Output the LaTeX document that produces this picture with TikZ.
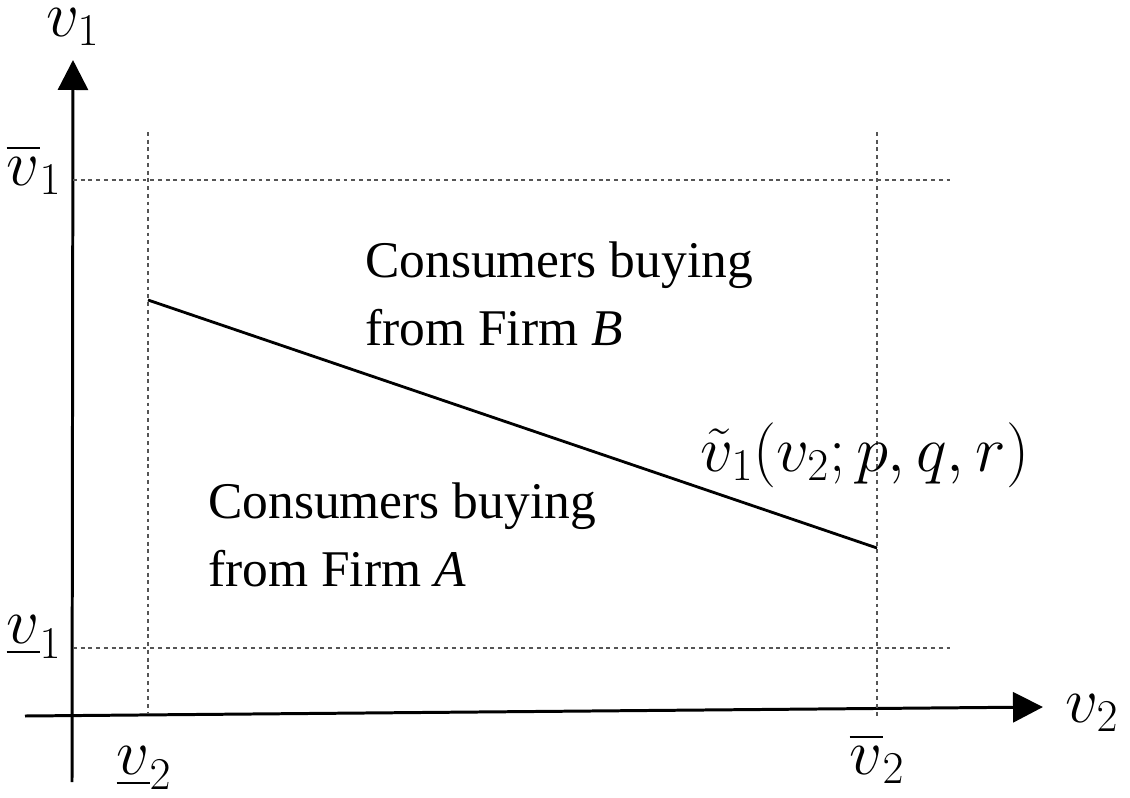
\RequirePackage{fix-cm}
\documentclass[tikz,border=0pt]{standalone}
\usepackage{amsmath,amssymb}
\usepackage{fontspec}
\setmainfont{Liberation Serif}
\usetikzlibrary{arrows.meta, positioning, calc}
\definecolor{inkblack}{HTML}{000000}
\definecolor{guidegray}{HTML}{555555}

\begin{document}
\begin{tikzpicture}[x=0.02cm, y=-0.02cm,
  >={Triangle[length=6mm, width=6mm]},
  axis/.style={inkblack, line width=1.7pt},
  guide/.style={guidegray, line width=0.6pt, dash pattern=on 2.2pt off 2.2pt},
  boundary/.style={inkblack, line width=1.6pt},
  mlabel/.style={inner sep=0pt, anchor=base, font=\fontsize{37}{42}\selectfont},
  region/.style={inner sep=0pt, align=left, anchor=west, font=\fontsize{29.3}{39}\selectfont}]

% Canvas
\useasboundingbox (0,0) rectangle (1130,798);

% Axes
\coordinate (xstart) at (25,716);
\coordinate (xend) at (1043,707);
\coordinate (ystart) at (72,782);
\coordinate (yend) at (73,60);
\draw[axis, ->] (xstart) -- (xend);
\draw[axis, ->] (ystart) -- (yend);

% Bounds on the valuations
\coordinate (lotop) at (148,132);
\coordinate (lobot) at (148,714);
\coordinate (hitop) at (877,132);
\coordinate (hibot) at (877,718);
\coordinate (ubleft) at (73,180);
\coordinate (ubright) at (950,180);
\coordinate (lbleft) at (73,648);
\coordinate (lbright) at (950,648);
\draw[guide] (lotop) -- (lobot);
\draw[guide] (hitop) -- (hibot);
\draw[guide] (ubleft) -- (ubright);
\draw[guide] (lbleft) -- (lbright);

% Indifference line
\coordinate (cutleft) at (148,300);
\coordinate (cutright) at (877,548);
\draw[boundary] (cutleft) -- (cutright);

% Axis labels (placed by baseline)
\node[mlabel] (vone) at (73,36) {$v_1$};
\node[mlabel] (vtwo) at (1092,722) {$v_2$};
\node[mlabel] (vonehi) at (34,185) {$\overline{v}_1$};
\node[mlabel] (vonelo) at (34,643) {$\underline{v}_1$};
\node[mlabel] (vtwolo) at (144,774) {$\underline{v}_2$};
\node[mlabel] (vtwohi) at (877,774) {$\overline{v}_2$};

% Regions
\node[region] (firmb) at (365,294) {Consumers buying\\from Firm \textit{B}};
\node[region] (firma) at (208,535) {Consumers buying\\from Firm \textit{A}};
\node[mlabel] (cutlab) at (865,471) {$\tilde{v}_1(v_2;p,q,r)$};

\end{tikzpicture}
\end{document}
